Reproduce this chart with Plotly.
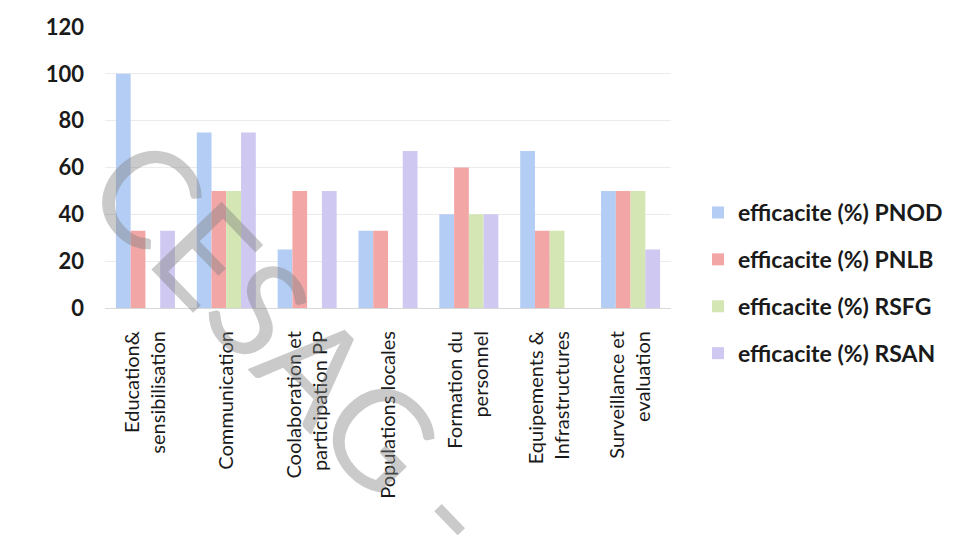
import plotly.graph_objects as go

categories = [
    "Education&<br>sensibilisation",
    "Communication",
    "Coolaboration et<br>participation PP",
    "Populations locales",
    "Formation du<br>personnel",
    "Equipements &<br>Infrastructures",
    "Surveillance et<br>evaluation",
]
series_names = [
    "efficacite (%) PNOD",
    "efficacite (%) PNLB",
    "efficacite (%) RSFG",
    "efficacite (%) RSAN",
]
pnod = [100, 75, 25, 33, 40, 67, 50]
pnlb = [33, 50, 50, 33, 60, 33, 50]
rsfg = [0, 50, 0, 0, 40, 33, 50]
rsan = [33, 75, 50, 67, 40, 0, 25]
y_ticks = [0, 20, 40, 60, 80, 100, 120]

colors = ["#b4cdf5", "#f2a6a6", "#d3e6b4", "#cfc8f0"]
values = [pnod, pnlb, rsfg, rsan]

L, R, T, B = 105, 296, 27, 237
W, H = 967, 545
pw = W - L - R
ph = H - T - B

fig = go.Figure()
for i, (name, vals) in enumerate(zip(series_names, values)):
    fig.add_trace(go.Bar(
        x=categories, y=vals, name="<b>" + name + "</b>",
        marker=dict(color=colors[i], line=dict(width=0)),
        legendgroup="g%d" % i,
    ))

fig.update_layout(
    width=W, height=H,
    margin=dict(l=L, r=R, t=T, b=B),
    paper_bgcolor="white", plot_bgcolor="white",
    barmode="group", bargap=0.27, bargroupgap=0.0,
    font=dict(family="Lato, Open Sans, sans-serif", color="#1a1a1a"),
    showlegend=True,
    legend=dict(
        x=(698 - L) / pw, xanchor="left", y=(308 - 191) / ph, yanchor="top",
        font=dict(size=23, color="#1a1a1a"),
        tracegroupgap=14, itemwidth=30,
        bgcolor="rgba(0,0,0,0)",
    ),
    xaxis=dict(
        tickangle=-90, tickfont=dict(size=20, color="#1a1a1a"),
        showline=True, linecolor="#d8d8d8", linewidth=1,
        ticks="", showgrid=False, ticklabelstandoff=14,
    ),
    yaxis=dict(
        range=[0, 120], tickvals=y_ticks,
        tickfont=dict(size=22, color="#1a1a1a", weight="bold"),
        showgrid=True, gridcolor="#ebebeb", gridwidth=1,
        zeroline=False, showline=False, ticks="",
        ticklabelstandoff=20,
    ),
)

fig.add_annotation(
    xref="paper", yref="paper",
    x=(297 - L) / pw, y=(308 - 344) / ph,
    xanchor="center", yanchor="middle",
    text="CESAG -", showarrow=False, textangle=46,
    font=dict(size=136, color="rgba(128,128,128,0.42)", family="Lato, sans-serif"),
)

fig.write_html("out.html")
